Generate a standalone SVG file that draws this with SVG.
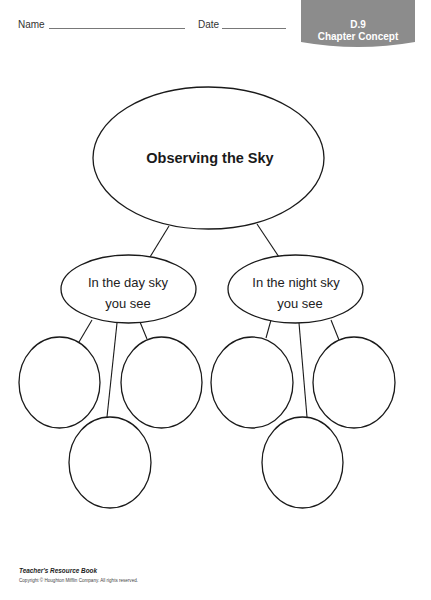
<svg xmlns="http://www.w3.org/2000/svg" width="431" height="600" viewBox="0 0 431 600">
<style>
.n{fill:#fff;stroke:#1a1a1a;stroke-width:1.3}
.c{stroke:#1a1a1a;stroke-width:1.1;fill:none}
.hd{font-family:"Liberation Sans",Arial,sans-serif;font-size:10px;fill:#333}
.ul{stroke:#555;stroke-width:0.8}
.mid{font-family:"Liberation Sans",Arial,sans-serif;font-size:13px;fill:#222;text-anchor:middle}
</style>
<rect width="431" height="600" fill="#fff"/>
<g id="header">
<text class="hd" x="18" y="28">Name</text>
<line class="ul" x1="49" y1="28.5" x2="185" y2="28.5"/>
<text class="hd" x="198" y="28">Date</text>
<line class="ul" x1="222" y1="28.5" x2="286" y2="28.5"/>
<path d="M301,0 H415 V42 Q358,52 301,42 Z" fill="#8c8c8c"/>
<text x="358" y="28" font-family="Liberation Sans,Arial,sans-serif" font-size="10" font-weight="bold" fill="#fff" text-anchor="middle">D.9</text>
<text x="358" y="40" font-family="Liberation Sans,Arial,sans-serif" font-size="10" font-weight="bold" fill="#fff" text-anchor="middle">Chapter Concept</text>
</g>
<g id="connectors">
<line class="c" x1="169" y1="226" x2="150" y2="257"/>
<line class="c" x1="257" y1="224" x2="279" y2="257"/>
<line class="c" x1="92" y1="320" x2="79" y2="342"/>
<line class="c" x1="117" y1="323" x2="107" y2="417"/>
<line class="c" x1="140" y1="322" x2="147" y2="339"/>
<line class="c" x1="271" y1="320" x2="266" y2="338"/>
<line class="c" x1="299" y1="323" x2="307" y2="417"/>
<line class="c" x1="331" y1="320" x2="339" y2="340"/>
</g>
<g id="main">
<ellipse class="n" cx="208.5" cy="158" rx="115.5" ry="71"/>
<text x="210" y="163" font-family="Liberation Sans,Arial,sans-serif" font-size="14.5" font-weight="bold" fill="#1a1a1a" text-anchor="middle">Observing the Sky</text>
</g>
<g id="day">
<ellipse class="n" cx="128.5" cy="289" rx="67.5" ry="34"/>
<text class="mid" x="128" y="287">In the day sky</text>
<text class="mid" x="128" y="308">you see</text>
</g>
<g id="night">
<ellipse class="n" cx="295.5" cy="289" rx="67.5" ry="34"/>
<text class="mid" x="296" y="287">In the night sky</text>
<text class="mid" x="300" y="308">you see</text>
</g>
<g id="day1"><ellipse class="n" cx="59.5" cy="382.5" rx="40.5" ry="45.5"/></g>
<g id="day2"><ellipse class="n" cx="161.5" cy="382.5" rx="40.5" ry="45.5"/></g>
<g id="day3"><ellipse class="n" cx="110" cy="462.5" rx="41" ry="45.5"/></g>
<g id="night1"><ellipse class="n" cx="252" cy="382.5" rx="41" ry="45.5"/></g>
<g id="night2"><ellipse class="n" cx="354" cy="382.5" rx="41" ry="45.5"/></g>
<g id="night3"><ellipse class="n" cx="302.5" cy="462.5" rx="40.5" ry="45.5"/></g>
<g id="footer">
<text x="19" y="573" font-family="Liberation Sans,Arial,sans-serif" font-size="7.5" font-weight="bold" font-style="italic" fill="#222" textLength="78" lengthAdjust="spacingAndGlyphs">Teacher's Resource Book</text>
<text x="19" y="582" font-family="Liberation Sans,Arial,sans-serif" font-size="4.5" fill="#444" textLength="119" lengthAdjust="spacingAndGlyphs">Copyright © Houghton Mifflin Company. All rights reserved.</text>
</g>
</svg>
